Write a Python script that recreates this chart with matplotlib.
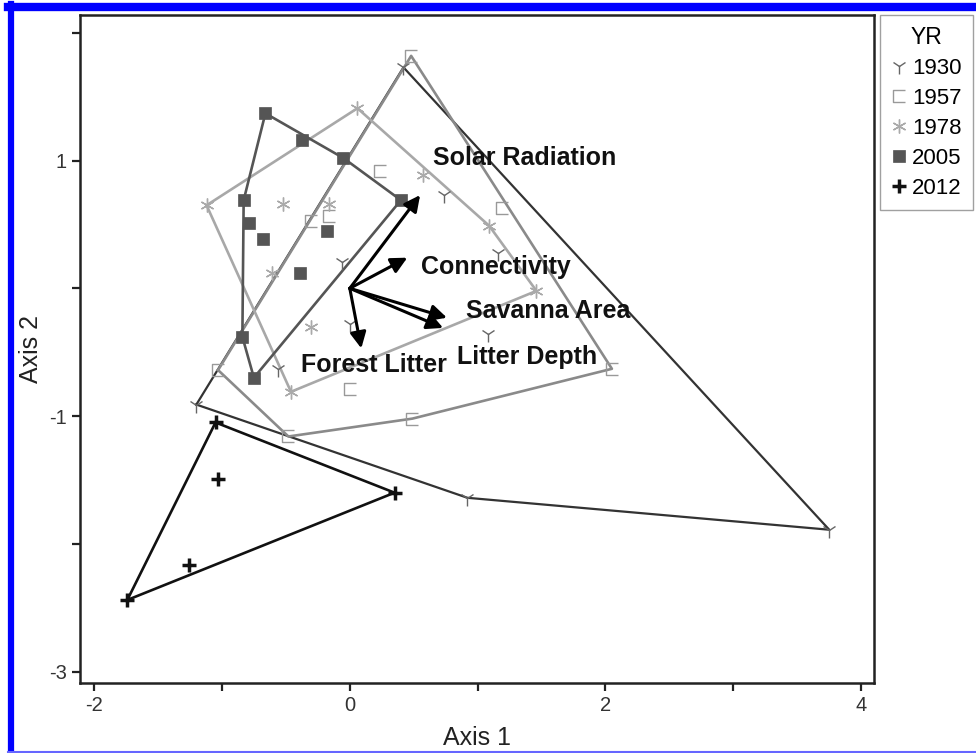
import numpy as np
import matplotlib.pyplot as plt
from matplotlib.path import Path
from matplotlib.lines import Line2D

plt.rcParams['font.family'] = ['Liberation Sans', 'DejaVu Sans']
plt.rcParams['axes.unicode_minus'] = False

# ordination scores per sampling year
years = ['1930', '1957', '1978', '2005', '2012']

x_1930 = [0.42, 3.75, 0.92, -1.20, 0.74, -0.06, 1.16, 0.00, 1.08, -0.56]
y_1930 = [1.73, -1.89, -1.64, -0.91, 0.73, 0.21, 0.28, -0.28, -0.36, -0.63]

x_1957 = [0.48, 2.05, 0.49, -0.48, -1.03, 0.24, 1.19, -0.30, -0.16, 0.00]
y_1957 = [1.82, -0.63, -1.02, -1.16, -0.64, 0.92, 0.63, 0.53, 0.57, -0.79]

x_1978 = [-1.12, 0.06, 1.46, -0.46, 0.57, 1.09, -0.52, -0.16, -0.61, -0.30]
y_1978 = [0.65, 1.41, -0.02, -0.81, 0.89, 0.49, 0.66, 0.66, 0.12, -0.30]

x_2005 = [-0.66, -0.375, -0.05, 0.40, -0.75, -0.84, -0.83, -0.79, -0.68, -0.18, -0.39]
y_2005 = [1.37, 1.16, 1.02, 0.69, -0.70, -0.38, 0.69, 0.51, 0.39, 0.45, 0.12]

x_2012 = [-1.74, -1.05, 0.35, -1.03, -1.26]
y_2012 = [-2.44, -1.05, -1.60, -1.49, -2.17]

# environmental vectors (biplot)
vectors = ['Solar Radiation', 'Connectivity', 'Savanna Area', 'Litter Depth', 'Forest Litter']
vec_x = [0.55, 0.45, 0.76, 0.73, 0.09]
vec_y = [0.73, 0.24, -0.23, -0.31, -0.47]


def hull(xs, ys):
    pts = sorted(set(zip(xs, ys)))

    def cross(o, a, b):
        return (a[0] - o[0]) * (b[1] - o[1]) - (a[1] - o[1]) * (b[0] - o[0])

    lower, upper = [], []
    for p in pts:
        while len(lower) >= 2 and cross(lower[-2], lower[-1], p) <= 0:
            lower.pop()
        lower.append(p)
    for p in reversed(pts):
        while len(upper) >= 2 and cross(upper[-2], upper[-1], p) <= 0:
            upper.pop()
        upper.append(p)
    h = lower[:-1] + upper[:-1]
    h.append(h[0])
    return np.array(h)


# open "[" shaped marker
bracket = Path([(1, 1), (-1, 1), (-1, -1), (1, -1)],
               [Path.MOVETO, Path.LINETO, Path.LINETO, Path.LINETO])

styles = {
    '1930': dict(marker='1', ms=11, mc='#666666', lc='#333333', lw=1.6, mew=1.0),
    '1957': dict(marker=bracket, ms=8.5, mc='#999999', lc='#8a8a8a', lw=1.9, mew=1.0),
    '1978': dict(marker=(6, 2, 0), ms=10, mc='#aaaaaa', lc='#a8a8a8', lw=1.9, mew=1.0),
    '2005': dict(marker='s', ms=8, mc='#555555', lc='#555555', lw=1.9, mew=0.5),
    '2012': dict(marker='+', ms=9.5, mc='#111111', lc='#111111', lw=1.9, mew=2.5),
}
data = {'1930': (x_1930, y_1930), '1957': (x_1957, y_1957), '1978': (x_1978, y_1978),
        '2005': (x_2005, y_2005), '2012': (x_2012, y_2012)}

fig = plt.figure(figsize=(9.76, 7.53), dpi=100)
ax = fig.add_axes([80 / 976, 1 - 683 / 753, 794 / 976, 668 / 753])

handles = []
for yr in years:
    xs, ys = data[yr]
    st = styles[yr]
    h = hull(xs, ys)
    ax.plot(h[:, 0], h[:, 1], color=st['lc'], lw=st['lw'], zorder=2)
    ax.plot(xs, ys, ls='none', marker=st['marker'], ms=st['ms'], color=st['mc'],
            mfc=st['mc'] if yr == '2005' else 'none', mec=st['mc'], mew=st['mew'], zorder=3)
    handles.append(Line2D([], [], ls='none', marker=st['marker'], ms=st['ms'],
                          color=st['mc'], mfc=st['mc'] if yr == '2005' else 'none',
                          mec=st['mc'], mew=st['mew'], label=yr))

for name, vx, vy in zip(vectors, vec_x, vec_y):
    ax.annotate('', xy=(vx, vy), xytext=(0, 0),
                arrowprops=dict(arrowstyle='-|>', color='black', lw=2.2,
                                mutation_scale=24, shrinkA=0, shrinkB=0), zorder=4)

label_pos = {'Solar Radiation': (0.65, 1.02), 'Connectivity': (0.56, 0.17),
             'Savanna Area': (0.91, -0.18), 'Litter Depth': (0.84, -0.54),
             'Forest Litter': (-0.38, -0.60)}
for name in vectors:
    lx, ly = label_pos[name]
    ax.text(lx, ly, name, fontsize=18, fontweight='bold', color='#111111',
            ha='left', va='center', zorder=5)

ax.set_xlim(-2.11, 4.1)
ax.set_ylim(-3.09, 2.14)
ax.set_xticks([-2, 0, 2, 4])
ax.set_xticks([-1, 1, 3], minor=True)
ax.set_yticks([-3, -1, 1])
ax.set_yticks([-2, 0, 2], minor=True)
ax.tick_params(which='both', direction='out', length=6, width=1.6, color='#222222',
               labelsize=14.5, labelcolor='#333333')
for s in ax.spines.values():
    s.set_linewidth(1.8)
    s.set_color('#222222')
ax.set_xlabel('Axis 1', fontsize=18, color='#222222', labelpad=8)
ax.set_ylabel('Axis 2', fontsize=18, color='#222222', labelpad=4)

leg = fig.legend(handles=handles, title='YR', loc='upper left',
                 bbox_to_anchor=(880 / 976, 1 - 15 / 753), fontsize=16,
                 title_fontsize=16.5, frameon=True, fancybox=False,
                 handlelength=0.7, handletextpad=0.25, labelspacing=0.4,
                 borderpad=0.5, borderaxespad=0)
leg.get_frame().set_edgecolor('#888888')
leg.get_frame().set_linewidth(1.0)

# blue page border
fig.add_artist(Line2D([8 / 976, 1], [1 - 7 / 753] * 2, transform=fig.transFigure,
                      color='#0000ff', lw=6))
fig.add_artist(Line2D([11 / 976] * 2, [0, 1 - 4 / 753], transform=fig.transFigure,
                      color='#0000ff', lw=4.5))
fig.add_artist(Line2D([8 / 976, 1], [1.5 / 753] * 2, transform=fig.transFigure,
                      color='#6666ff', lw=1.5))

fig.savefig('out.png', dpi=100)
